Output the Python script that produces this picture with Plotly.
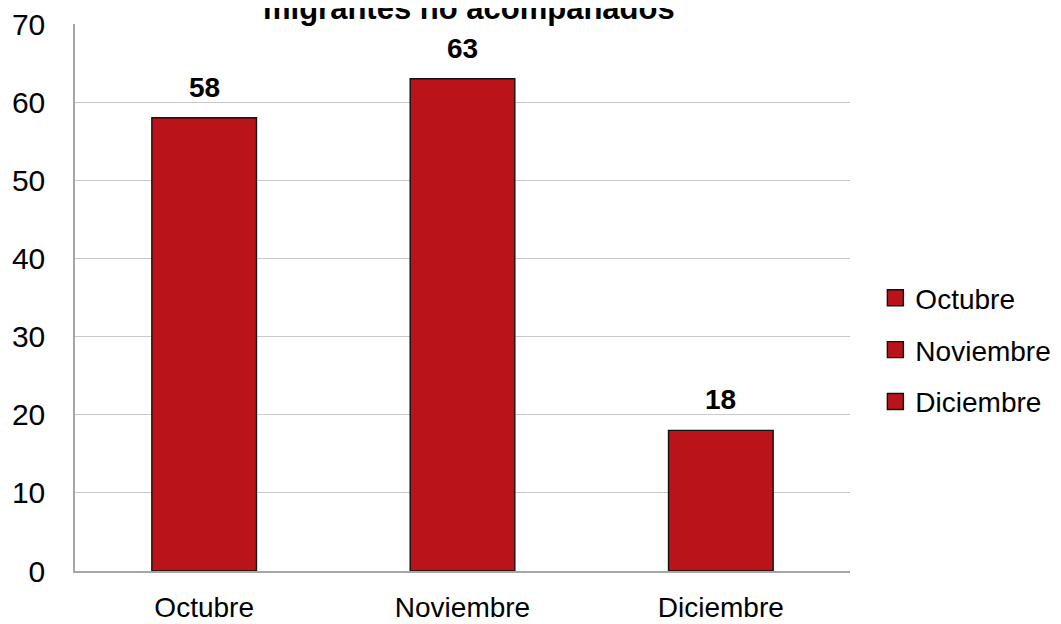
import plotly.graph_objects as go

categories = ["Octubre", "Noviembre", "Diciembre"]
values = [58, 63, 18]
y_ticks = [0, 10, 20, 30, 40, 50, 60, 70]
title_text = "migrantes no acompañados"

BAR_COLOR = "#BA141A"
FONT = "Liberation Sans, Arial, sans-serif"

fig = go.Figure()
for cat, val in zip(categories, values):
    fig.add_trace(go.Bar(
        x=[cat], y=[val], name=cat, showlegend=False,
        marker=dict(color=BAR_COLOR, line=dict(color="#111111", width=1.4)),
        width=0.405,
    ))

# legend entries (larger square swatches)
for i, cat in enumerate(categories):
    fig.add_trace(go.Scatter(
        x=[None], y=[None], mode="markers", name=cat, legendgroup=f"g{i}",
        marker=dict(symbol="square", size=16, color=BAR_COLOR,
                    line=dict(color="#111111", width=1.4)),
    ))

for cat, val in zip(categories, values):
    fig.add_annotation(
        x=cat, y=val, text=f"<b>{val}</b>", showarrow=False,
        xref="x", yref="y", yanchor="bottom", yshift=13,
        font=dict(size=28, color="#000000", family=FONT),
    )

fig.add_annotation(
    x=0.5, y=1, xref="paper", yref="paper", text=f"<b>{title_text}</b>",
    showarrow=False, yanchor="bottom", yshift=-4, xshift=6,
    font=dict(size=31, color="#000000", family=FONT),
)

fig.update_layout(
    width=1061, height=624,
    margin=dict(l=67, r=219, t=16, b=61),
    paper_bgcolor="white", plot_bgcolor="white",
    barmode="overlay",
    font=dict(family=FONT, size=28, color="#000000"),
    showlegend=True,
    legend=dict(
        x=0.8175, xanchor="left", xref="container", y=0.404, yanchor="middle",
        font=dict(size=28, family=FONT, color="#000000"),
        itemsizing="trace", tracegroupgap=12.5, itemwidth=30,
        bgcolor="rgba(0,0,0,0)",
    ),
    xaxis=dict(
        showgrid=False, showline=True, linecolor="#a6a6a6", linewidth=1.5,
        ticks="", tickfont=dict(size=28, family=FONT),
        ticklabelstandoff=11, automargin=False, ticklabeloverflow="allow",
    ),
    yaxis=dict(
        range=[0, 70], tickvals=y_ticks, showgrid=True,
        gridcolor="#c8c8c8", gridwidth=1.3, showline=True,
        linecolor="#a6a6a6", linewidth=1.5, ticks="",
        ticklabelstandoff=22, tickfont=dict(size=30, family=FONT),
        zeroline=False, automargin=False, ticklabeloverflow="allow",
    ),
)

fig.write_html("out.html")
